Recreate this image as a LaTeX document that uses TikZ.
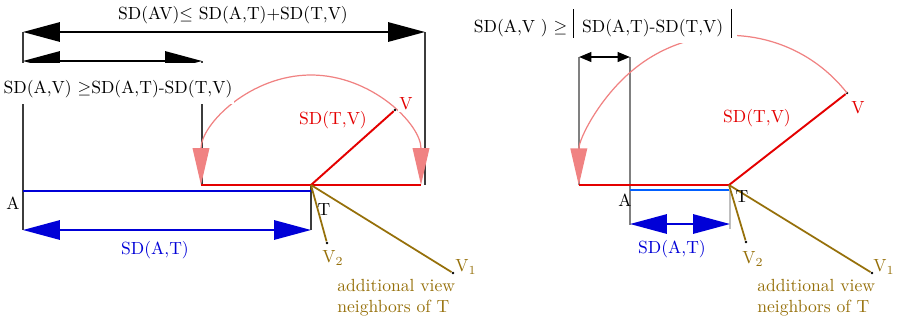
\documentclass[tikz,border=0pt]{standalone}
\usepackage{amsmath, amssymb}
\usetikzlibrary{arrows.meta}
\definecolor{sdRed}{RGB}{228, 0, 0}
\definecolor{sdBlue}{RGB}{0, 0, 215}
\definecolor{sdLightBlue}{RGB}{0, 95, 255}
\definecolor{sdPink}{RGB}{240, 130, 130}
\definecolor{sdGold}{RGB}{150, 112, 10}
\definecolor{sdGrey}{RGB}{60, 60, 60}

\tikzset{
  guide/.style={sdGrey, line width=1.1pt},
  bigtips/.style={arrows={Triangle[length=21pt,width=11pt]-Triangle[length=21pt,width=11pt]}},
  smalltips/.style={arrows={Triangle[length=7pt,width=5.5pt]-Triangle[length=7pt,width=5.5pt]}},
  rotarc/.style={sdPink, line width=0.7pt},
  pinktip/.tip={Triangle[length=21pt,width=9.5pt]},
  nbline/.style={sdGold, line width=1pt},
  ptdot/.style={circle, fill=black, inner sep=0pt, minimum size=1.6pt},
  whitelabel/.style={fill=white, inner ysep=0pt, inner xsep=1pt, anchor=base}
}
\newcommand{\absbar}{\rule[-3.4pt]{0.6pt}{16.4pt}}

\begin{document}
\begin{tikzpicture}[x=0.02cm, y=-0.02cm]
  \useasboundingbox (0,0) rectangle (900,322);

  % left picture
  \coordinate (A) at (23,191);
  \coordinate (T) at (311,185);
  \coordinate (Tb) at (311,191);
  \coordinate (Vl) at (201,185);
  \coordinate (Vr) at (421,185);
  \coordinate (Atop) at (23,32);
  \coordinate (Amid) at (23,61);
  \coordinate (Abot) at (23,230);
  \coordinate (Mtop) at (202,61);
  \coordinate (Mbot) at (202,185);
  \coordinate (Rtop) at (425,32);
  \coordinate (Rbot) at (425,185);
  \coordinate (Tbot) at (311,230);

  \draw[guide] (Atop) -- (Abot);
  \draw[guide] (Mtop) -- (Mbot);
  \draw[guide] (Rtop) -- (Rbot);
  \draw[guide] (T) -- (Tbot);
  \draw[line width=1.1pt, black, bigtips] (Atop) -- (Rtop);
  \draw[line width=1.1pt, black, bigtips] (Amid) -- (Mtop);
  \draw[line width=1.1pt, sdBlue, bigtips] (Abot) -- (Tbot);

  \draw[rotarc, arrows={pinktip-pinktip}] (Vl) arc[start angle=180, end angle=360, radius=110];

  \draw[sdBlue, line width=1.1pt] (A) -- (Tb);
  \draw[sdRed, line width=1.1pt] (Vl) -- (Vr);

  \node[sdRed, fill=white, inner sep=1pt] (labV) at (406,104) {V};
  \node[ptdot] (V) at (395,110) {};
  \draw[sdRed, line width=1.1pt] (T) -- (V);

  \node[ptdot] (V2) at (327,243) {};
  \node[ptdot] (V1) at (453,273) {};
  \draw[nbline] (T) -- (V2);
  \draw[nbline] (T) -- (V1);

  \node (sumL) at (233,15) {SD(AV)$\leq$ SD(A,T)+SD(T,V)};
  \node[whitelabel, text height=17pt, text depth=6pt] (diffL) at (118,93) {SD(A,V) $\geq$SD(A,T)-SD(T,V)};
  \node[sdRed] (labTV) at (333,120) {SD(T,V)};
  \node (labA) at (13,203) {A};
  \node (labT) at (324,210) {T};
  \node[sdBlue] (labAT) at (155,250) {SD(A,T)};
  \node[sdGold] (labV2) at (333,258) {V\textsubscript{2}};
  \node[sdGold] (labV1) at (466,267) {V\textsubscript{1}};
  \node[sdGold, align=left, anchor=north west, inner sep=0pt] (nbL) at (337,279) {additional view\\neighbors of T};

  % right picture
  \coordinate (A2) at (630,190);
  \coordinate (T2) at (729,185);
  \coordinate (T2b) at (729,190);
  \coordinate (Vrot) at (579,185);
  \coordinate (Ltop) at (579,57);
  \coordinate (Ktop) at (630,57);
  \coordinate (Kbot) at (630,225);
  \coordinate (Ktip) at (630,224);
  \coordinate (T2top) at (730,190);
  \coordinate (T2bot) at (730,229);
  \coordinate (T2tip) at (730,224);

  \draw[gray, line width=1.1pt] (Ltop) -- (Vrot);
  \draw[gray, line width=1.1pt] (Ktop) -- (Kbot);
  \draw[lightgray, line width=1.1pt] (T2top) -- (T2bot);
  \draw[line width=1.1pt, black, smalltips] (Ltop) -- (Ktop);
  \draw[line width=1.1pt, sdBlue, bigtips] (Ktip) -- (T2tip);

  \node[ptdot] (Vb) at (847,93) {};
  \draw[rotarc, arrows={-pinktip}] (Vb) arc[start angle=322, end angle=180, radius=150];

  \draw[sdLightBlue, line width=1.1pt] (A2) -- (T2b);
  \draw[sdRed, line width=1.1pt] (Vrot) -- (T2) -- (Vb);

  \node[ptdot] (V2b) at (746,242) {};
  \node[ptdot] (V1b) at (872,273) {};
  \draw[nbline] (T2) -- (V2b);
  \draw[nbline] (T2) -- (V1b);

  \node[whitelabel, inner xsep=3pt, text depth=6pt] (diffR) at (603,32) {SD(A,V ) $\geq$ \absbar\hspace{4.5pt}SD(A,T)-SD(T,V)\hspace{4.5pt}\absbar};
  \node[sdRed] (labVb) at (858,108) {V};
  \node[sdRed] (labTVb) at (757,118) {SD(T,V)};
  \node (labA2) at (625,200) {A};
  \node (labT2) at (742,197) {T};
  \node[sdBlue] (labATb) at (672,249) {SD(A,T)};
  \node[sdGold] (labV2b) at (753,259) {V\textsubscript{2}};
  \node[sdGold] (labV1b) at (884,267) {V\textsubscript{1}};
  \node[sdGold, align=left, anchor=north west, inner sep=0pt] (nbR) at (757,279) {additional view\\neighbors of T};
\end{tikzpicture}
\end{document}
